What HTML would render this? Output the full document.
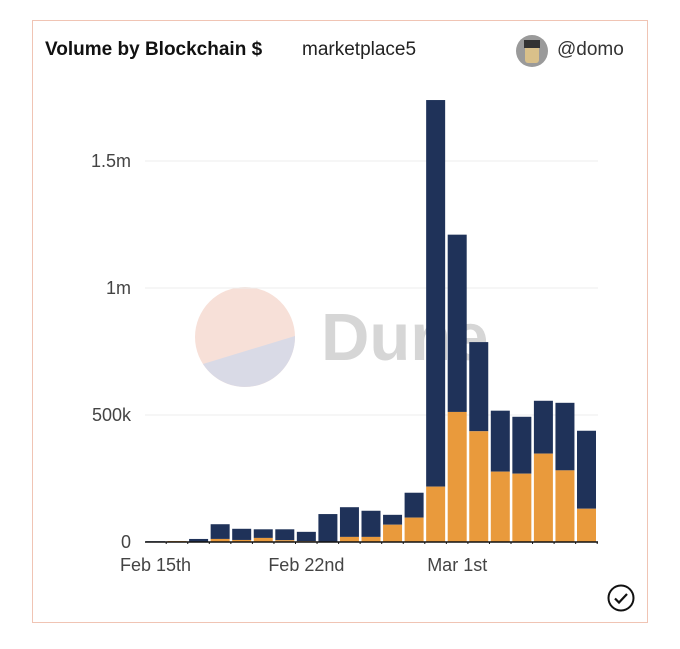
<!DOCTYPE html>
<html><head><meta charset="utf-8"><style>
body{margin:0;background:#fff;width:680px;height:649px;overflow:hidden;font-family:"Liberation Sans",sans-serif}
.card{position:absolute;left:32px;top:20px;width:616px;height:603px;border:1px solid #f0c4b4;box-sizing:border-box}
</style></head><body>
<div class="card"></div>
<div style="position:absolute;left:45px;top:39px;font-size:19px;font-weight:bold;color:#111">Volume by Blockchain $</div>
<div style="position:absolute;left:302px;top:39px;font-size:19px;color:#222">marketplace5</div>
<div style="position:absolute;left:516px;top:35px;width:32px;height:32px;border-radius:50%;background:#9a9a9a;overflow:hidden"><div style="position:absolute;left:9px;top:6px;width:14px;height:22px;background:#d9c08a;border-radius:3px"></div><div style="position:absolute;left:8px;top:5px;width:16px;height:8px;background:#333"></div></div>
<div style="position:absolute;left:557px;top:39px;font-size:19px;color:#333">@domo</div>
<svg id="chart" width="680" height="649" style="position:absolute;left:0;top:0">
<g>
<circle cx="245" cy="337" r="50" fill="#f7e0d8"/>
<path d="M203,364 L295,336 A50,50 0 0 1 203,364 Z" fill="#d9dae6"/>
<text x="321" y="360" font-size="67" font-weight="bold" fill="#d6d6d6" font-family="Liberation Sans, sans-serif">Dune</text>
</g>
<g id="grid"></g><g id="bars"></g><g id="axes"></g>
</svg>
<svg width="30" height="30" style="position:absolute;left:606px;top:583px"><circle cx="15" cy="15" r="12.5" fill="none" stroke="#111" stroke-width="2"/><path d="M9 15.5 L13 19.5 L21 11" fill="none" stroke="#111" stroke-width="2.2"/></svg>
<script>
const categories=["Feb 15","Feb 16","Feb 17","Feb 18","Feb 19","Feb 20","Feb 21","Feb 22","Feb 23","Feb 24","Feb 25","Feb 26","Feb 27","Feb 28","Mar 1","Mar 2","Mar 3","Mar 4","Mar 5","Mar 6","Mar 7"];
const orangeVals=[1000,4000,2000,12000,8000,16000,7000,3000,2000,20000,20000,68000,96000,218000,512000,436000,277000,269000,348000,282000,131000];
const totalVals=[3000,4000,12000,70000,52000,50000,50000,40000,110000,137000,123000,107000,194000,1740000,1210000,787000,517000,493000,556000,548000,438000];
const yTicks=[0,500000,1000000,1500000];
const yTickLabels=["0","500k","1m","1.5m"];
const xTickIdx=[0,7,14];
const xTickLabels=["Feb 15th","Feb 22nd","Mar 1st"];
const NS="http://www.w3.org/2000/svg";
const x0=145,x1=598,y0=542,pxPer=127/500000,pitch=21.55,bw=19;
const y=v=>y0-v*pxPer;
const x=i=>x0+1+i*pitch;
function mk(tag,attrs,parent){const e=document.createElementNS(NS,tag);for(const k in attrs)e.setAttribute(k,attrs[k]);document.getElementById(parent).appendChild(e);return e;}
yTicks.forEach((t,i)=>{
 if(t>0){const g=mk('line',{x1:x0,x2:x1,y1:y(t),y2:y(t),stroke:'#ececec','stroke-width':1},'grid');
 
 }
 const l=mk('text',{x:131,y:y(t)+6,'text-anchor':'end','font-size':18,fill:'#444','font-family':'Liberation Sans, sans-serif'},'axes');
 l.textContent=yTickLabels[i];
 
 
});
categories.forEach((c,i)=>{
 const n=mk('rect',{x:x(i),y:y(totalVals[i]),width:bw,height:(totalVals[i]-orangeVals[i])*pxPer,fill:'#1f3259'},'bars');
 
 
 const o=mk('rect',{x:x(i),y:y(orangeVals[i]),width:bw,height:orangeVals[i]*pxPer,fill:'#e99a3c'},'bars');
 
 
 const tk=mk('line',{x1:x(i)+bw+1.2,x2:x(i)+bw+1.2,y1:y0,y2:y0+2,stroke:'#111'},'axes');
 
 
});
const base=mk('line',{x1:x0,x2:x1,y1:y0,y2:y0,stroke:'#111','stroke-width':1.5},'axes');


xTickIdx.forEach((idx,i)=>{
 const l=mk('text',{x:x(idx)+bw/2,y:571,'text-anchor':'middle','font-size':18,fill:'#444','font-family':'Liberation Sans, sans-serif'},'axes');
 l.textContent=xTickLabels[i];
 
 
});
</script>
</body></html>
